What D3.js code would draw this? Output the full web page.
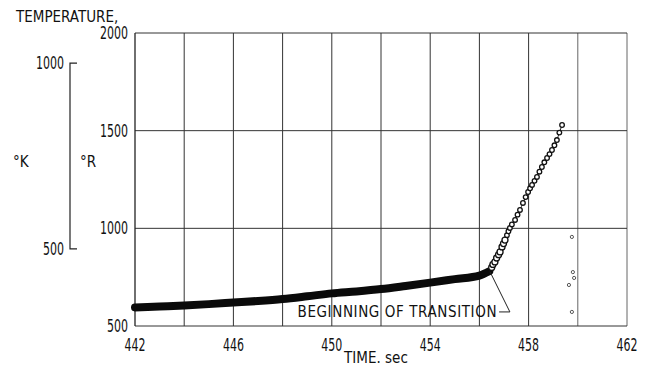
<!DOCTYPE html>
<html>
<head>
<meta charset="utf-8">
<script src="https://cdn.jsdelivr.net/npm/d3@7"></script>
<style>
	body { margin: 0; background: #fff; }
	text { font-family: "Liberation Sans Narrow", "DejaVu Sans Condensed", "Liberation Sans", sans-serif; fill: #111; }
</style>
</head>
<body>
<div class="svg-container"></div>
<script>
// page and plot box
var margin = {
	top: 33,
	right: 21,
	bottom: 41,
	left: 135
},
pageWidth = 648,
pageHeight = 367,
width = pageWidth - margin.left - margin.right,
height = pageHeight - margin.top - margin.bottom;

var minX = 442,
	maxX = 462,
	minY = 500,
	maxY = 2000,
	digitWidth = 7;   // narrow typewriter-ish digits of the original

// axis ticks
var timeTicks = [442, 446, 450, 454, 458, 462];
var gridTimes = [444, 446, 448, 450, 452, 454, 456, 458, 460, 462];
var tempTicks = [500, 1000, 1500, 2000];
var kelvinTicks = [500, 1000];
var kelvinAsRankine = [895, 1846];   // where the °K ticks sit on the °R scale, as drawn

// slow heating before transition (dense band of points)
var bandTime = [442, 443, 444, 445, 446, 447, 448, 449, 450, 451, 452, 453, 454, 455, 456, 456.4];
var bandTemp = [595, 600, 605, 612, 620, 628, 638, 652, 667, 677, 689, 705, 722, 740, 758, 780];

// after transition
var transTime = [456.50, 456.55, 456.63, 456.70, 456.78, 456.84, 456.92, 456.98, 457.04, 457.12, 457.18, 457.24,
	457.32, 457.45, 457.55, 457.65, 457.77, 457.88, 457.98, 458.06, 458.14, 458.24, 458.34, 458.44, 458.54,
	458.64, 458.75, 458.85, 458.95, 459.05, 459.15, 459.25, 459.36];
var transTemp = [800, 815, 828, 848, 865, 879, 905, 922, 940, 965, 985, 1002,
	1020, 1043, 1070, 1094, 1130, 1160, 1186, 1205, 1222, 1243, 1263, 1290, 1314,
	1338, 1360, 1380, 1401, 1425, 1452, 1490, 1529];

// stray points near 460 s
var strayTime = [459.76, 459.80, 459.85, 459.64, 459.76];
var strayTemp = [956, 776, 746, 710, 572];

// label leader: text end, elbow, curve point
var leaderTime = [456.8, 457.24, 456.43];
var leaderTemp = [572, 572, 778];


function plot() {
	var svg = d3.select(".svg-container")
	.append("svg")
	.attr("width", pageWidth)
	.attr("height", pageHeight)
	.append("g")
	.attr("transform", "translate(" + margin.left + "," + margin.top + ")");

	var xScale = d3.scaleLinear().range([0, width]).domain([minX, maxX]);
	var yScale = d3.scaleLinear().range([height, 0]).domain([minY, maxY]);

	drawGrid(svg, xScale, yScale);
	drawAxes(svg, xScale, yScale);
	drawData(svg, xScale, yScale);
	drawLabels(svg, xScale, yScale);
}


function numLabel(sel) {
	sel.style("font-size", "17px")
	.attr("lengthAdjust", "spacingAndGlyphs")
	.attr("textLength", function(d) { return String(d).length * digitWidth; })
	.text(function(d) { return d; });
}


function drawGrid(svg, x, y) {
	svg.selectAll(".vgrid").data(gridTimes)
	.enter()
	.append("line")
	.attr("class", "vgrid")
	.attr("x1", function(d) { return x(d); })
	.attr("x2", function(d) { return x(d); })
	.attr("y1", 0)
	.attr("y2", height)
	.attr("stroke", function(d) { return d >= 460 ? "#666" : "#333"; })
	.attr("stroke-width", 1);

	svg.selectAll(".hgrid").data(tempTicks)
	.enter()
	.append("line")
	.attr("class", "hgrid")
	.attr("x1", 0)
	.attr("x2", width)
	.attr("y1", function(d) { return y(d); })
	.attr("y2", function(d) { return y(d); })
	.attr("stroke", "#333")
	.attr("stroke-width", 1);

	// left border
	svg.append("line")
	.attr("x1", 0).attr("x2", 0)
	.attr("y1", 0).attr("y2", height)
	.attr("stroke", "#222")
	.attr("stroke-width", 1.3);
}


function drawAxes(svg, x, y) {
	// time labels
	svg.selectAll(".xlab").data(timeTicks)
	.enter()
	.append("text")
	.attr("class", "xlab")
	.attr("x", function(d) { return x(d) - 1.5 * digitWidth; })
	.attr("y", height + 25)
	.call(numLabel);

	// rankine labels
	svg.selectAll(".ylab").data(tempTicks)
	.enter()
	.append("text")
	.attr("class", "ylab")
	.attr("x", function(d) { return -7 - String(d).length * digitWidth; })
	.attr("y", function(d) { return y(d); })
	.attr("dy", "0.36em")
	.call(numLabel);

	svg.append("text")
	.attr("x", x(450.5))
	.attr("y", height + 37)
	.style("font-size", "15px")
	.text("TIME. sec");

	svg.append("text")
	.attr("x", -119)
	.attr("y", -11)
	.style("font-size", "15px")
	.text("TEMPERATURE,");

	// kelvin bracket
	var kScale = d3.scaleLinear().domain(kelvinTicks).range(kelvinAsRankine.map(y));
	var bx = -65;
	var k = svg.append("g");
	k.append("path")
	.attr("d", "M" + (bx + 7) + "," + kScale(1000) + "H" + bx + "V" + kScale(500) + "H" + (bx + 7))
	.attr("fill", "none")
	.attr("stroke", "#222")
	.attr("stroke-width", 1.2);

	k.selectAll("text").data(kelvinTicks)
	.enter()
	.append("text")
	.attr("x", function(d) { return bx - 6 - String(d).length * digitWidth; })
	.attr("y", function(d) { return kScale(d); })
	.attr("dy", "0.36em")
	.call(numLabel);

	svg.append("text")
	.attr("x", -122)
	.attr("y", 134)
	.style("font-size", "15px")
	.text("°K");

	svg.append("text")
	.attr("x", -55)
	.attr("y", 134)
	.style("font-size", "15px")
	.text("°R");
}


function drawData(svg, x, y) {
	var band = bandTime.map(function(t, i) { return [t, bandTemp[i]]; });
	var trans = transTime.map(function(t, i) { return [t, transTemp[i]]; });
	var stray = strayTime.map(function(t, i) { return [t, strayTemp[i]]; });

	var line = d3.line()
	.x(function(d) { return x(d[0]); })
	.y(function(d) { return y(d[1]); })
	.curve(d3.curveMonotoneX);

	svg.append("path")
	.datum(band)
	.attr("fill", "none")
	.attr("stroke", "#0a0a0a")
	.attr("stroke-width", 8)
	.attr("stroke-linecap", "round")
	.attr("d", line);

	svg.append("path")
	.datum(trans)
	.attr("fill", "none")
	.attr("stroke", "#222")
	.attr("stroke-width", 1)
	.attr("d", line);

	svg.selectAll(".tp").data(trans)
	.enter()
	.append("circle")
	.attr("class", "tp")
	.attr("cx", function(d) { return x(d[0]); })
	.attr("cy", function(d) { return y(d[1]); })
	.attr("r", function(d) { return d[1] < 950 ? 3 : 2.3; })
	.attr("fill", "#fff")
	.attr("stroke", "#111")
	.attr("stroke-width", 1.3);

	svg.selectAll(".sp").data(stray)
	.enter()
	.append("circle")
	.attr("class", "sp")
	.attr("cx", function(d) { return x(d[0]); })
	.attr("cy", function(d) { return y(d[1]); })
	.attr("r", 1.6)
	.attr("fill", "none")
	.attr("stroke", "#444")
	.attr("stroke-width", 0.9);
}


function drawLabels(svg, x, y) {
	var pts = leaderTime.map(function(t, i) { return [x(t), y(leaderTemp[i])]; });

	svg.append("path")
	.attr("d", d3.line()(pts))
	.attr("fill", "none")
	.attr("stroke", "#222")
	.attr("stroke-width", 1);

	svg.append("text")
	.attr("x", pts[0][0] - 2)
	.attr("y", pts[0][1])
	.attr("dy", "0.36em")
	.attr("text-anchor", "end")
	.style("font-size", "15px")
	.style("letter-spacing", "0.6px")
	.text("BEGINNING OF TRANSITION");
}

plot();
</script>
</body>
</html>
